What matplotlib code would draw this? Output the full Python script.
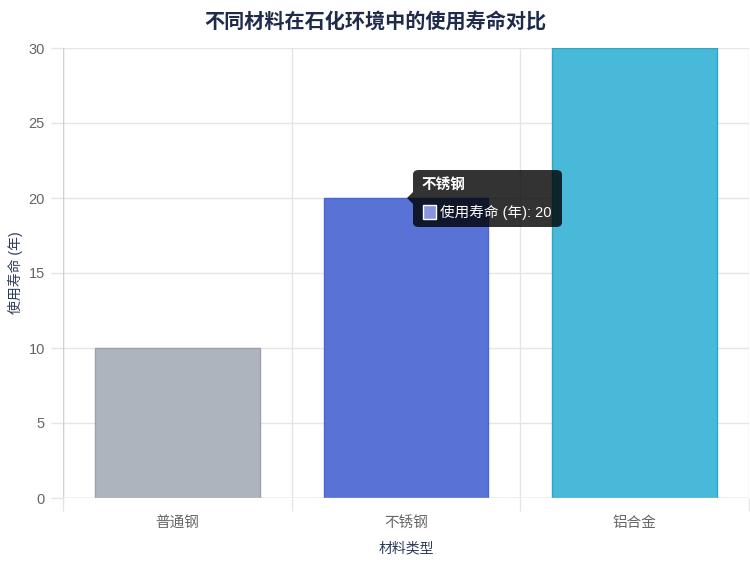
import matplotlib
matplotlib.use("Agg")
import matplotlib.pyplot as plt
from matplotlib.patches import FancyBboxPatch, Polygon, Rectangle

plt.rcParams['font.family'] = ['Liberation Sans', 'Noto Sans CJK SC', 'DejaVu Sans']

categories = ['普通钢', '不锈钢', '铝合金']
lifetimes = [10, 20, 30]
bar_colors = ['#aeb4bd', '#5872d6', '#48b9d9']
edge_colors = ['#9aa1ad', '#4a67d8', '#30a5cc']
yticks = [0, 5, 10, 15, 20, 25, 30]
title = '不同材料在石化环境中的使用寿命对比'
xlabel = '材料类型'
ylabel = '使用寿命 (年)'
series_name = '使用寿命 (年)'
hover_index = 1

W, H = 750, 562
fig = plt.figure(figsize=(W/100, H/100), dpi=100)
ax = fig.add_axes([63/W, 1-498/H, (749-63)/W, (498-48)/H])

x = list(range(len(categories)))
ax.bar(x, lifetimes, width=0.72, color=bar_colors, edgecolor=edge_colors, linewidth=1, zorder=3)
ax.set_xlim(-0.5, len(categories)-0.5)
ax.set_ylim(0, 30)
ax.set_yticks(yticks)
ax.set_xticks(x)
ax.set_xticklabels(categories)
ax.set_xticks([i-0.5 for i in range(len(categories)+1)], minor=True)
ax.grid(False)
for yv in yticks:
    ax.axhline(yv, color='#e5e5e5', lw=1, zorder=1)
for xv in [i-0.5 for i in range(len(categories)+1)]:
    ax.axvline(xv, color='#e5e5e5', lw=1, zorder=1)
ax.axhline(0, color='#d0d0d0', lw=1, zorder=4)
ax.axvline(-0.5, color='#d0d0d0', lw=1, zorder=4)
for s in ax.spines.values():
    s.set_visible(False)
ax.tick_params(axis='x', which='major', length=0, pad=13, labelsize=10.5, labelcolor='#666666')
ax.tick_params(axis='x', which='minor', length=9, color='#e5e5e5', width=1)
ax.tick_params(axis='y', length=9, color='#e5e5e5', width=1, pad=4, labelsize=10.5, labelcolor='#666666')

ax.set_xlabel(xlabel, fontsize=10, color='#2d3a5a', labelpad=8)
ax.set_ylabel(ylabel, fontsize=10, color='#2d3a5a', labelpad=4)
fig.text(375/W, 1-22/H, title, ha='center', va='center', fontsize=14.5, fontweight='bold', color='#1e2b4a')

# tooltip (pixel coordinates in figure)
def fx(px): return px/W
def fy(py): return 1-py/H
tb = FancyBboxPatch((fx(413), fy(227)), fx(562)-fx(413), fy(170)-fy(227),
                    boxstyle='round,pad=0,rounding_size=0.008', transform=fig.transFigure,
                    facecolor=(0, 0, 0, 0.8), edgecolor='none', zorder=10)
fig.patches.append(tb)
caret = Polygon([(fx(413), fy(192)), (fx(407), fy(198)), (fx(413), fy(204))], closed=True,
                transform=fig.transFigure, facecolor=(0, 0, 0, 0.8), edgecolor='none', zorder=10)
fig.patches.append(caret)
fig.text(fx(422), fy(185), categories[hover_index], ha='left', va='center', fontsize=10.5,
         fontweight='bold', color='white', zorder=11)
sw = Rectangle((fx(423), fy(219)), fx(436)-fx(423), fy(205)-fy(219), transform=fig.transFigure,
               facecolor='#8796dc', edgecolor='white', lw=1, zorder=11)
fig.patches.append(sw)
fig.text(fx(440), fy(212), f'{series_name}: {lifetimes[hover_index]}', ha='left', va='center',
         fontsize=10.5, color='white', zorder=11)

fig.savefig('out.png', dpi=100)
